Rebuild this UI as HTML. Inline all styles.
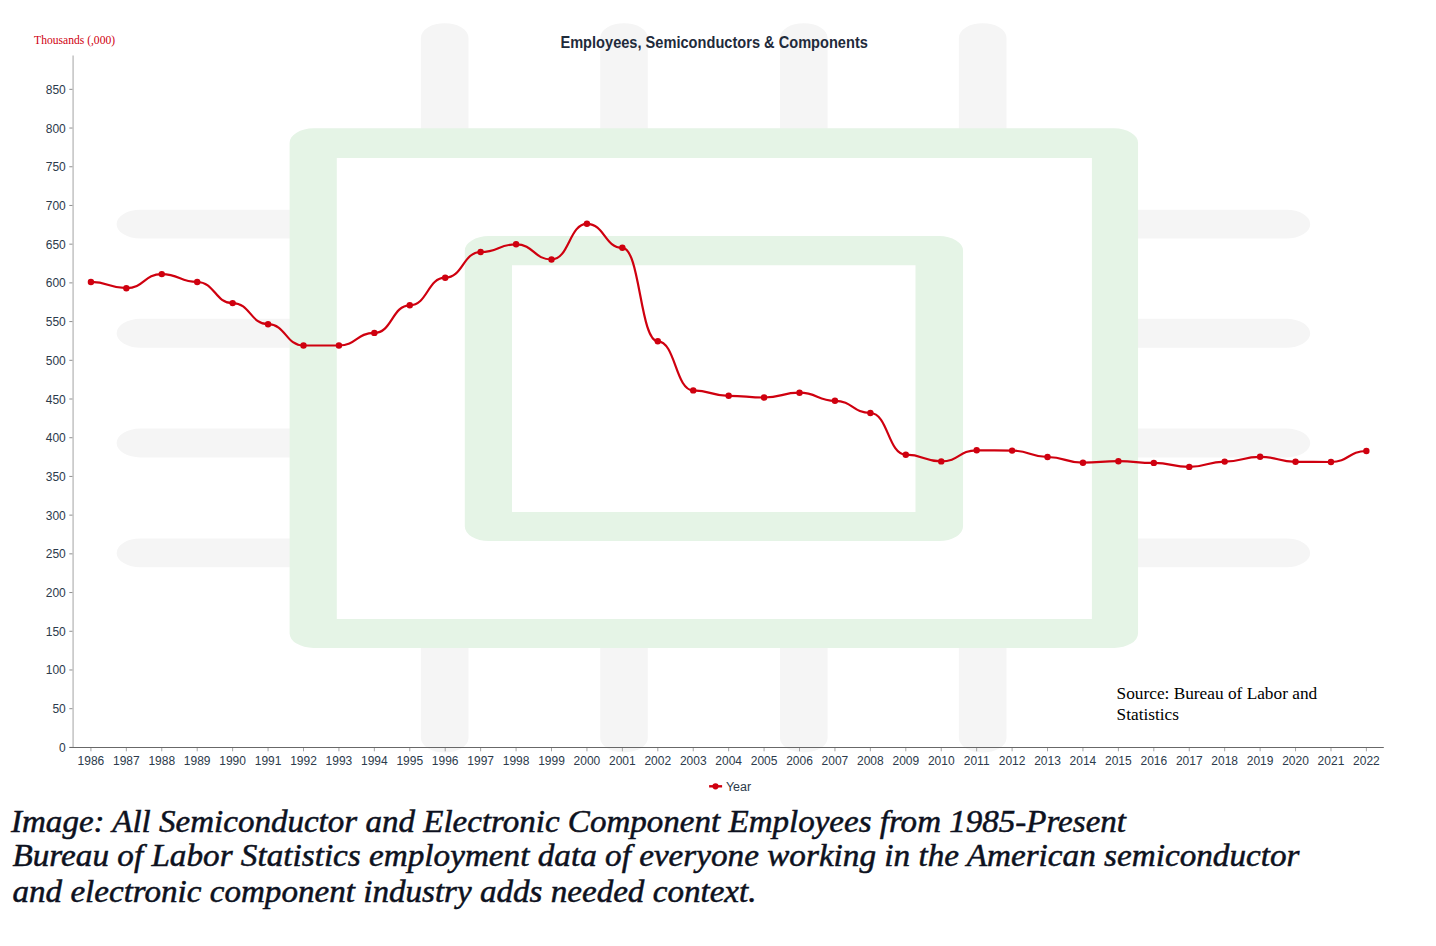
<!DOCTYPE html>
<html><head><meta charset="utf-8"><style>
html,body{margin:0;padding:0;background:#fff;}
body{width:1436px;height:946px;position:relative;overflow:hidden;font-family:"Liberation Sans",sans-serif;}
.chart{position:absolute;left:0;top:0;width:1436px;height:946px;}
</style></head><body>
<svg class="chart" viewBox="0 0 1436 946">
<path d="M420.90 145.00V37.80A23.80 14.60 0 0 1 468.50 37.80V145.00ZM420.90 630.00V737.90A23.80 14.60 0 0 0 468.50 737.90V630.00ZM600.20 145.00V37.80A23.80 14.60 0 0 1 647.80 37.80V145.00ZM600.20 630.00V737.90A23.80 14.60 0 0 0 647.80 737.90V630.00ZM779.95 145.00V37.80A23.80 14.60 0 0 1 827.55 37.80V145.00ZM779.95 630.00V737.90A23.80 14.60 0 0 0 827.55 737.90V630.00ZM958.90 145.00V37.80A23.80 14.60 0 0 1 1006.50 37.80V145.00ZM958.90 630.00V737.90A23.80 14.60 0 0 0 1006.50 737.90V630.00ZM312.00 209.70H140.50A23.90 14.45 0 0 0 140.50 238.60H312.00ZM1115.00 209.70H1286.30A23.90 14.45 0 0 1 1286.30 238.60H1115.00ZM312.00 318.85H140.50A23.90 14.45 0 0 0 140.50 347.75H312.00ZM1115.00 318.85H1286.30A23.90 14.45 0 0 1 1286.30 347.75H1115.00ZM312.00 428.55H140.50A23.90 14.45 0 0 0 140.50 457.45H312.00ZM1115.00 428.55H1286.30A23.90 14.45 0 0 1 1286.30 457.45H1115.00ZM312.00 538.45H140.50A23.90 14.45 0 0 0 140.50 567.35H312.00ZM1115.00 538.45H1286.30A23.90 14.45 0 0 1 1286.30 567.35H1115.00Z" fill="#f5f5f5"/>
<path d="M313.50 128.35H1114.15A23.90 14.60 0 0 1 1138.05 142.95V633.30A23.90 14.60 0 0 1 1114.15 647.90H313.50A23.90 14.60 0 0 1 289.60 633.30V142.95A23.90 14.60 0 0 1 313.50 128.35ZM336.80 157.96V619.00H1091.90V157.96ZM488.70 236.10H939.15A23.90 14.60 0 0 1 963.05 250.70V526.40A23.90 14.60 0 0 1 939.15 541.00H488.70A23.90 14.60 0 0 1 464.80 526.40V250.70A23.90 14.60 0 0 1 488.70 236.10ZM512.00 265.20V512.05H915.50V265.20Z" fill="#e5f4e6" fill-rule="evenodd"/>
<g stroke="#8f8f8f" stroke-width="1"><line x1="69.3" y1="747.40" x2="73.10" y2="747.40"/><line x1="69.3" y1="708.69" x2="73.10" y2="708.69"/><line x1="69.3" y1="669.98" x2="73.10" y2="669.98"/><line x1="69.3" y1="631.27" x2="73.10" y2="631.27"/><line x1="69.3" y1="592.56" x2="73.10" y2="592.56"/><line x1="69.3" y1="553.85" x2="73.10" y2="553.85"/><line x1="69.3" y1="515.14" x2="73.10" y2="515.14"/><line x1="69.3" y1="476.43" x2="73.10" y2="476.43"/><line x1="69.3" y1="437.72" x2="73.10" y2="437.72"/><line x1="69.3" y1="399.01" x2="73.10" y2="399.01"/><line x1="69.3" y1="360.30" x2="73.10" y2="360.30"/><line x1="69.3" y1="321.59" x2="73.10" y2="321.59"/><line x1="69.3" y1="282.88" x2="73.10" y2="282.88"/><line x1="69.3" y1="244.17" x2="73.10" y2="244.17"/><line x1="69.3" y1="205.46" x2="73.10" y2="205.46"/><line x1="69.3" y1="166.75" x2="73.10" y2="166.75"/><line x1="69.3" y1="128.04" x2="73.10" y2="128.04"/><line x1="69.3" y1="89.33" x2="73.10" y2="89.33"/></g>
<line x1="73.1" y1="55.5" x2="73.1" y2="747.4" stroke="#c6c6c6" stroke-width="1.6"/>
<g stroke="#a5a5a5" stroke-width="1"><line x1="90.92" y1="747.9" x2="90.92" y2="751.3"/><line x1="126.34" y1="747.9" x2="126.34" y2="751.3"/><line x1="161.78" y1="747.9" x2="161.78" y2="751.3"/><line x1="197.20" y1="747.9" x2="197.20" y2="751.3"/><line x1="232.63" y1="747.9" x2="232.63" y2="751.3"/><line x1="268.06" y1="747.9" x2="268.06" y2="751.3"/><line x1="303.50" y1="747.9" x2="303.50" y2="751.3"/><line x1="338.93" y1="747.9" x2="338.93" y2="751.3"/><line x1="374.35" y1="747.9" x2="374.35" y2="751.3"/><line x1="409.78" y1="747.9" x2="409.78" y2="751.3"/><line x1="445.21" y1="747.9" x2="445.21" y2="751.3"/><line x1="480.64" y1="747.9" x2="480.64" y2="751.3"/><line x1="516.08" y1="747.9" x2="516.08" y2="751.3"/><line x1="551.50" y1="747.9" x2="551.50" y2="751.3"/><line x1="586.94" y1="747.9" x2="586.94" y2="751.3"/><line x1="622.37" y1="747.9" x2="622.37" y2="751.3"/><line x1="657.80" y1="747.9" x2="657.80" y2="751.3"/><line x1="693.23" y1="747.9" x2="693.23" y2="751.3"/><line x1="728.66" y1="747.9" x2="728.66" y2="751.3"/><line x1="764.09" y1="747.9" x2="764.09" y2="751.3"/><line x1="799.51" y1="747.9" x2="799.51" y2="751.3"/><line x1="834.95" y1="747.9" x2="834.95" y2="751.3"/><line x1="870.38" y1="747.9" x2="870.38" y2="751.3"/><line x1="905.81" y1="747.9" x2="905.81" y2="751.3"/><line x1="941.24" y1="747.9" x2="941.24" y2="751.3"/><line x1="976.67" y1="747.9" x2="976.67" y2="751.3"/><line x1="1012.10" y1="747.9" x2="1012.10" y2="751.3"/><line x1="1047.53" y1="747.9" x2="1047.53" y2="751.3"/><line x1="1082.95" y1="747.9" x2="1082.95" y2="751.3"/><line x1="1118.38" y1="747.9" x2="1118.38" y2="751.3"/><line x1="1153.82" y1="747.9" x2="1153.82" y2="751.3"/><line x1="1189.25" y1="747.9" x2="1189.25" y2="751.3"/><line x1="1224.67" y1="747.9" x2="1224.67" y2="751.3"/><line x1="1260.11" y1="747.9" x2="1260.11" y2="751.3"/><line x1="1295.54" y1="747.9" x2="1295.54" y2="751.3"/><line x1="1330.97" y1="747.9" x2="1330.97" y2="751.3"/><line x1="1366.39" y1="747.9" x2="1366.39" y2="751.3"/></g>
<line x1="69.5" y1="747.5" x2="1383.8" y2="747.5" stroke="#686868" stroke-width="1"/>
<g font-family="Liberation Sans, sans-serif" font-size="12" fill="#2c3a4b" text-anchor="end"><text x="65.8" y="751.90">0</text><text x="65.8" y="713.19">50</text><text x="65.8" y="674.48">100</text><text x="65.8" y="635.77">150</text><text x="65.8" y="597.06">200</text><text x="65.8" y="558.35">250</text><text x="65.8" y="519.64">300</text><text x="65.8" y="480.93">350</text><text x="65.8" y="442.22">400</text><text x="65.8" y="403.51">450</text><text x="65.8" y="364.80">500</text><text x="65.8" y="326.09">550</text><text x="65.8" y="287.38">600</text><text x="65.8" y="248.67">650</text><text x="65.8" y="209.96">700</text><text x="65.8" y="171.25">750</text><text x="65.8" y="132.54">800</text><text x="65.8" y="93.83">850</text></g>
<g font-family="Liberation Sans, sans-serif" font-size="12" fill="#2c3a4b" text-anchor="middle"><text x="90.92" y="765">1986</text><text x="126.34" y="765">1987</text><text x="161.78" y="765">1988</text><text x="197.20" y="765">1989</text><text x="232.63" y="765">1990</text><text x="268.06" y="765">1991</text><text x="303.50" y="765">1992</text><text x="338.93" y="765">1993</text><text x="374.35" y="765">1994</text><text x="409.78" y="765">1995</text><text x="445.21" y="765">1996</text><text x="480.64" y="765">1997</text><text x="516.08" y="765">1998</text><text x="551.50" y="765">1999</text><text x="586.94" y="765">2000</text><text x="622.37" y="765">2001</text><text x="657.80" y="765">2002</text><text x="693.23" y="765">2003</text><text x="728.66" y="765">2004</text><text x="764.09" y="765">2005</text><text x="799.51" y="765">2006</text><text x="834.95" y="765">2007</text><text x="870.38" y="765">2008</text><text x="905.81" y="765">2009</text><text x="941.24" y="765">2010</text><text x="976.67" y="765">2011</text><text x="1012.10" y="765">2012</text><text x="1047.53" y="765">2013</text><text x="1082.95" y="765">2014</text><text x="1118.38" y="765">2015</text><text x="1153.82" y="765">2016</text><text x="1189.25" y="765">2017</text><text x="1224.67" y="765">2018</text><text x="1260.11" y="765">2019</text><text x="1295.54" y="765">2020</text><text x="1330.97" y="765">2021</text><text x="1366.39" y="765">2022</text></g>
<path d="M90.92 281.96 C108.63 281.96 108.63 288.20 126.34 288.20 C144.06 288.20 144.06 274.10 161.78 274.10 C179.49 274.10 179.49 282.00 197.20 282.00 C214.92 282.00 214.92 303.10 232.63 303.10 C250.35 303.10 250.35 324.20 268.06 324.20 C285.78 324.20 285.78 345.50 303.50 345.50 C321.21 345.50 321.21 345.50 338.93 345.50 C356.64 345.50 356.64 332.90 374.35 332.90 C392.07 332.90 392.07 305.30 409.78 305.30 C427.50 305.30 427.50 277.70 445.21 277.70 C462.93 277.70 462.93 252.00 480.64 252.00 C498.36 252.00 498.36 244.30 516.08 244.30 C533.79 244.30 533.79 259.50 551.50 259.50 C569.22 259.50 569.22 223.80 586.94 223.80 C604.65 223.80 604.65 247.80 622.37 247.80 C640.08 247.80 640.08 341.30 657.80 341.30 C675.51 341.30 675.51 390.40 693.23 390.40 C710.94 390.40 710.94 395.80 728.66 395.80 C746.37 395.80 746.37 397.50 764.09 397.50 C781.80 397.50 781.80 392.70 799.51 392.70 C817.23 392.70 817.23 400.80 834.95 400.80 C852.66 400.80 852.66 413.00 870.38 413.00 C888.09 413.00 888.09 454.70 905.81 454.70 C923.52 454.70 923.52 461.40 941.24 461.40 C958.95 461.40 958.95 450.30 976.67 450.30 C994.38 450.30 994.38 450.60 1012.10 450.60 C1029.81 450.60 1029.81 457.00 1047.53 457.00 C1065.24 457.00 1065.24 462.70 1082.95 462.70 C1100.67 462.70 1100.67 461.20 1118.38 461.20 C1136.10 461.20 1136.10 462.90 1153.82 462.90 C1171.53 462.90 1171.53 466.90 1189.25 466.90 C1206.96 466.90 1206.96 461.60 1224.67 461.60 C1242.39 461.60 1242.39 456.80 1260.11 456.80 C1277.82 456.80 1277.82 461.80 1295.54 461.80 C1313.25 461.80 1313.25 462.00 1330.97 462.00 C1348.68 462.00 1348.68 451.00 1366.39 451.00" fill="none" stroke="#cf000f" stroke-width="2.2"/>
<g fill="#cf000f"><circle cx="90.92" cy="281.96" r="3.2"/><circle cx="126.34" cy="288.20" r="3.2"/><circle cx="161.78" cy="274.10" r="3.2"/><circle cx="197.20" cy="282.00" r="3.2"/><circle cx="232.63" cy="303.10" r="3.2"/><circle cx="268.06" cy="324.20" r="3.2"/><circle cx="303.50" cy="345.50" r="3.2"/><circle cx="338.93" cy="345.50" r="3.2"/><circle cx="374.35" cy="332.90" r="3.2"/><circle cx="409.78" cy="305.30" r="3.2"/><circle cx="445.21" cy="277.70" r="3.2"/><circle cx="480.64" cy="252.00" r="3.2"/><circle cx="516.08" cy="244.30" r="3.2"/><circle cx="551.50" cy="259.50" r="3.2"/><circle cx="586.94" cy="223.80" r="3.2"/><circle cx="622.37" cy="247.80" r="3.2"/><circle cx="657.80" cy="341.30" r="3.2"/><circle cx="693.23" cy="390.40" r="3.2"/><circle cx="728.66" cy="395.80" r="3.2"/><circle cx="764.09" cy="397.50" r="3.2"/><circle cx="799.51" cy="392.70" r="3.2"/><circle cx="834.95" cy="400.80" r="3.2"/><circle cx="870.38" cy="413.00" r="3.2"/><circle cx="905.81" cy="454.70" r="3.2"/><circle cx="941.24" cy="461.40" r="3.2"/><circle cx="976.67" cy="450.30" r="3.2"/><circle cx="1012.10" cy="450.60" r="3.2"/><circle cx="1047.53" cy="457.00" r="3.2"/><circle cx="1082.95" cy="462.70" r="3.2"/><circle cx="1118.38" cy="461.20" r="3.2"/><circle cx="1153.82" cy="462.90" r="3.2"/><circle cx="1189.25" cy="466.90" r="3.2"/><circle cx="1224.67" cy="461.60" r="3.2"/><circle cx="1260.11" cy="456.80" r="3.2"/><circle cx="1295.54" cy="461.80" r="3.2"/><circle cx="1330.97" cy="462.00" r="3.2"/><circle cx="1366.39" cy="451.00" r="3.2"/></g>
<line x1="709.1" y1="786.3" x2="722.1" y2="786.3" stroke="#cf000f" stroke-width="2.4"/>
<circle cx="715.5" cy="786.3" r="3.1" fill="#cf000f"/>
<text id="t_title" x="560.40" y="48.00" font-family="Liberation Sans" font-size="17.30" font-weight="bold" fill="#1f2b3b" textLength="307.50" lengthAdjust="spacingAndGlyphs">Employees, Semiconductors &amp; Components</text>
<text id="t_ytitle" x="34.10" y="43.50" font-family="Liberation Serif" font-size="12.30" fill="#cf000f" textLength="81.00" lengthAdjust="spacingAndGlyphs">Thousands (,000)</text>
<text id="t_year" x="725.90" y="790.90" font-family="Liberation Sans" font-size="12.50" fill="#2c3a4b">Year</text>
<text id="t_src1" x="1116.60" y="698.70" font-family="Liberation Serif" font-size="17.30" fill="#000">Source: Bureau of Labor and</text>
<text id="t_src2" x="1116.60" y="719.80" font-family="Liberation Serif" font-size="17.30" fill="#000">Statistics</text>
<text id="t_cap1" x="11.00" y="832.00" font-family="Liberation Serif" font-size="31.00" font-style="italic" fill="#0d1120" textLength="1115.00" lengthAdjust="spacingAndGlyphs" stroke="#0d1120" stroke-width="0.50">Image: All Semiconductor and Electronic Component Employees from 1985-Present</text>
<text id="t_cap2" x="12.50" y="865.80" font-family="Liberation Serif" font-size="31.00" font-style="italic" fill="#0d1120" textLength="1287.00" lengthAdjust="spacingAndGlyphs" stroke="#0d1120" stroke-width="0.50">Bureau of Labor Statistics employment data of everyone working in the American semiconductor</text>
<text id="t_cap3" x="12.50" y="901.90" font-family="Liberation Serif" font-size="31.00" font-style="italic" fill="#0d1120" textLength="744.00" lengthAdjust="spacingAndGlyphs" stroke="#0d1120" stroke-width="0.50">and electronic component industry adds needed context.</text>
</svg>
</body></html>
